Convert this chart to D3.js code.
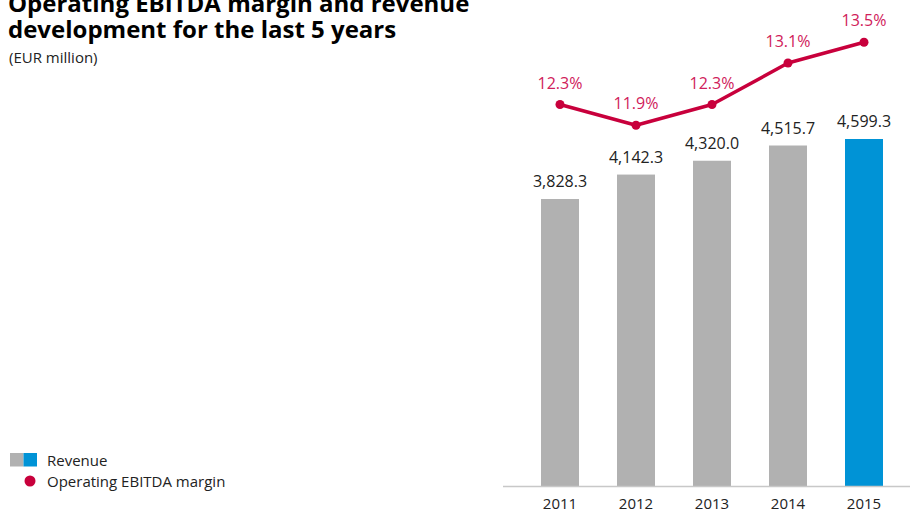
<!DOCTYPE html>
<html>
<head>
<meta charset="utf-8">
<script src="https://cdn.jsdelivr.net/npm/d3@7"></script>
<style>
  body { margin: 0; background: #fff; }
  svg { display: block; font-family: 'Open Sans', sans-serif; }
</style>
</head>
<body>
<div id="chart"></div>
<script>
const years = ['2011', '2012', '2013', '2014', '2015'];
const revenue = [3828.3, 4142.3, 4320.0, 4515.7, 4599.3];
const margin = [12.3, 11.9, 12.3, 13.1, 13.5];
const revenueLabels = ['3,828.3', '4,142.3', '4,320.0', '4,515.7', '4,599.3'];
const marginLabels = ['12.3%', '11.9%', '12.3%', '13.1%', '13.5%'];

const width = 910;
const height = 512;
const baseline = 486;
const svg = d3.select('#chart').append('svg').attr('width', width).attr('height', height);

const x = d3.scaleBand().domain(years).range([522, 902]).paddingInner(0.5).paddingOuter(0.25);
const y = d3.scaleLinear().domain([0, 4599.3]).range([497, 139]);
const yMargin = d3.scaleLinear().domain([11.9, 13.5]).range([125.3, 42.3]);

// title
const title = svg.append('g').attr('fill', '#000').attr('font-weight', 'bold').attr('font-size', 24);
title.append('text').attr('x', 8).attr('y', 12).text('Operating EBITDA margin and revenue');
title.append('text').attr('x', 8).attr('y', 38).text('development for the last 5 years');
svg.append('text').attr('x', 9).attr('y', 63).attr('font-size', 15).attr('fill', '#222').text('(EUR million)');

// bars
svg
  .append('g')
  .selectAll('rect')
  .data(revenue)
  .join('rect')
  .attr('x', (d, i) => x(years[i]))
  .attr('width', x.bandwidth())
  .attr('y', (d) => y(d))
  .attr('height', (d) => baseline - y(d))
  .attr('fill', (d, i) => (i === years.length - 1 ? '#0093d6' : '#b1b1b1'));

svg
  .append('g')
  .attr('font-size', 16)
  .attr('fill', '#222')
  .attr('text-anchor', 'middle')
  .selectAll('text')
  .data(revenue)
  .join('text')
  .attr('x', (d, i) => x(years[i]) + x.bandwidth() / 2)
  .attr('y', (d) => y(d) - 12)
  .text((d, i) => revenueLabels[i]);

// axis
svg.append('line').attr('x1', 503).attr('x2', width).attr('y1', baseline + 0.5).attr('y2', baseline + 0.5).attr('stroke', '#c8c8c8').attr('stroke-width', 1.5);

svg
  .append('g')
  .attr('font-size', 15)
  .attr('fill', '#222')
  .attr('text-anchor', 'middle')
  .selectAll('text')
  .data(years)
  .join('text')
  .attr('x', (d) => x(d) + x.bandwidth() / 2)
  .attr('y', 509)
  .text((d) => d);

// margin line
const line = d3
  .line()
  .x((d, i) => x(years[i]) + x.bandwidth() / 2)
  .y((d) => yMargin(d));

svg.append('path').datum(margin).attr('d', line).attr('fill', 'none').attr('stroke', '#c8003c').attr('stroke-width', 3.5).attr('stroke-linejoin', 'round');

svg
  .append('g')
  .selectAll('circle')
  .data(margin)
  .join('circle')
  .attr('cx', (d, i) => x(years[i]) + x.bandwidth() / 2)
  .attr('cy', (d) => yMargin(d))
  .attr('r', 4.5)
  .attr('fill', '#c8003c');

svg
  .append('g')
  .attr('font-size', 16)
  .attr('fill', '#d0205a')
  .attr('text-anchor', 'middle')
  .selectAll('text')
  .data(margin)
  .join('text')
  .attr('x', (d, i) => x(years[i]) + x.bandwidth() / 2)
  .attr('y', (d) => yMargin(d) - 16)
  .text((d, i) => marginLabels[i]);

// legend
const legend = svg.append('g').attr('font-size', 15).attr('fill', '#222');
legend.append('rect').attr('x', 10).attr('y', 453).attr('width', 13.5).attr('height', 13.5).attr('fill', '#b1b1b1');
legend.append('rect').attr('x', 23.5).attr('y', 453).attr('width', 13.5).attr('height', 13.5).attr('fill', '#0093d6');
legend.append('text').attr('x', 47).attr('y', 466).text('Revenue');
legend.append('circle').attr('cx', 30).attr('cy', 481).attr('r', 5.5).attr('fill', '#c8003c');
legend.append('text').attr('x', 47).attr('y', 487).text('Operating EBITDA margin');
</script>
</body>
</html>
